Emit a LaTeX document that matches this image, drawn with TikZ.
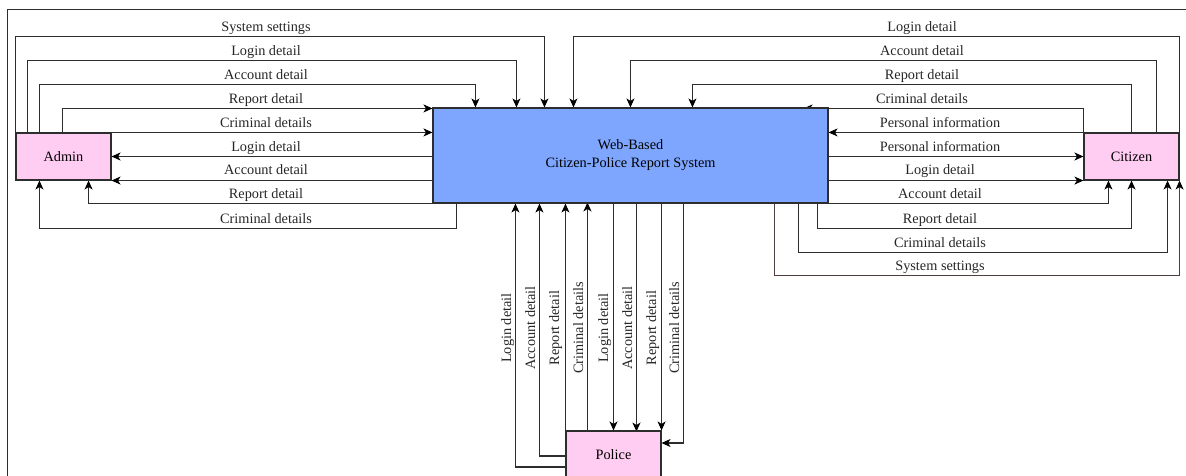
\documentclass[tikz,border=0pt]{standalone}
\usepackage{fontspec}
\setmainfont{Liberation Serif}
\usetikzlibrary{arrows.meta,backgrounds,calc}
\definecolor{pinkc}{RGB}{255,204,242}
\definecolor{bluec}{RGB}{126,166,255}
\definecolor{linec}{RGB}{45,45,45}
\definecolor{brownc}{RGB}{80,62,62}
\tikzset{
  flow/.style={draw=linec, line width=1.1pt, -{Stealth[length=9pt,width=8pt,inset=2.5pt,color=black]}},
  entity/.style={draw=linec, line width=1.1pt, fill=pinkc, minimum width=95pt, minimum height=47pt, inner sep=0pt},
  proc/.style={draw=linec, line width=1.1pt, fill=bluec, minimum width=395pt, minimum height=95pt, inner sep=0pt, align=center},
  lbl/.style={anchor=base, inner sep=0pt, text=black!85},
  vlbl/.style={anchor=base, inner sep=0pt, rotate=90, text=black!85}
}
\begin{document}
\begin{tikzpicture}[x=1pt,y=-1pt,font=\fontsize{14.3}{18}\selectfont]
\useasboundingbox (0,0) rectangle (1186,476);
\clip (0,0) rectangle (1186,476);
\draw[linec, line width=1pt] (7,480) -- (7,10) -- (1190,10);

\node[proc] (main) at (630.5,155.5) {Web-Based\\Citizen-Police Report System};
\node[entity] (admin) at (63.5,156.5) {Admin};
\node[entity] (citizen) at (1131.5,156.5) {Citizen};
\node[entity, minimum height=48pt] (police) at (613.5,455) {Police};

\begin{pgfonlayer}{background}
% Admin side
\draw[flow] (admin.north west) -- ++(0,-96) -| ([xshift=112pt]main.north west);
\draw[flow] ([xshift=12pt]admin.north west) -- ++(0,-72) -| ([xshift=84pt]main.north west);
\draw[flow] ([xshift=24pt]admin.north west) -- ++(0,-48) -| ([xshift=43pt]main.north west);
\draw[flow] ([xshift=47pt]admin.north west) |- ([yshift=-1pt]main.north west);
\draw[flow] (admin.north east) -- (admin.north east -| main.west);
\draw[flow] (main.west |- admin.east) -- (admin.east);
\draw[flow] (main.west |- admin.south east) -- (admin.south east);
\draw[flow] (main.south west) -| ([xshift=-23pt]admin.south east);
\draw[flow] ([xshift=24pt]main.south west) -- ++(0,25) -| ([xshift=24pt]admin.south west);
% Citizen side
\draw[flow] (citizen.north east) -- ++(0,-96) -| ([xshift=141pt]main.north west);
\draw[flow] ([xshift=-23pt]citizen.north east) -- ++(0,-72) -| ([xshift=198pt]main.north west);
\draw[flow] (citizen.north) -- ++(0,-48) -| ([xshift=260pt]main.north west);
\draw[flow] (citizen.north west) |- ([xshift=-25pt,yshift=-1pt]main.north east);
\draw[flow] (citizen.north west) -- (citizen.north west -| main.east);
\draw[flow] (main.east |- citizen.west) -- (citizen.west);
\draw[flow] (main.east |- citizen.south west) -- (citizen.south west);
\draw[flow] (main.south east) -| ([xshift=25pt]citizen.south west);
\draw[flow] ([xshift=-11pt]main.south east) -- ++(0,25) -| (citizen.south);
\draw[flow] ([xshift=-30pt]main.south east) -- ++(0,49) -| ([xshift=-12pt]citizen.south east);
\draw[flow, draw=brownc] ([xshift=-54pt]main.south east) -- ++(0,72) -| (citizen.south east);
% Police side
\draw[flow] ([yshift=-12pt]police.west) -| ([xshift=83pt]main.south west);
\draw[flow] ([yshift=-1pt]police.west) -| ([xshift=107pt]main.south west);
\draw[flow] (police.north west) -- (police.north west |- main.south);
\draw[flow] ([xshift=22pt]police.north west) -- ++(0,-228);
\draw[flow] (police.north |- main.south) -- (police.north);
\draw[flow] ([xshift=204pt]main.south west) -- ++(0,228);
\draw[flow] (police.north east |- main.south) -- (police.north east);
\draw[flow] ([xshift=251pt]main.south west) |- ([yshift=12pt]police.east);
\end{pgfonlayer}

% Admin labels
\node[lbl] (la1) at (266,32) {System settings};
\node[lbl] (la2) at (266,56) {Login detail};
\node[lbl] (la3) at (266,80) {Account detail};
\node[lbl] (la4) at (266,104) {Report detail};
\node[lbl] (la5) at (266,128) {Criminal details};
\node[lbl] (la6) at (266,151) {Login detail};
\node[lbl] (la7) at (266,175) {Account detail};
\node[lbl] (la8) at (266,198) {Report detail};
\node[lbl] (la9) at (266,223) {Criminal details};
% Citizen labels
\node[lbl] (lc1) at (922,32) {Login detail};
\node[lbl] (lc2) at (922,56) {Account detail};
\node[lbl] (lc3) at (922,80) {Report detail};
\node[lbl] (lc4) at (922,104) {Criminal details};
\node[lbl] (lc5) at (940,128) {Personal information};
\node[lbl] (lc6) at (940,151) {Personal information};
\node[lbl] (lc7) at (940,175) {Login detail};
\node[lbl] (lc8) at (940,198) {Account detail};
\node[lbl] (lc9) at (940,223) {Report detail};
\node[lbl] (lc10) at (940,247) {Criminal details};
\node[lbl] (lc11) at (940,270) {System settings};
% Police labels
\node[vlbl] (lp1) at (511,328) {Login detail};
\node[vlbl] (lp2) at (535,328) {Account detail};
\node[vlbl] (lp3) at (559,328) {Report detail};
\node[vlbl] (lp4) at (583,328) {Criminal details};
\node[vlbl] (lp5) at (608,328) {Login detail};
\node[vlbl] (lp6) at (632,328) {Account detail};
\node[vlbl] (lp7) at (656,328) {Report detail};
\node[vlbl] (lp8) at (679,328) {Criminal details};
\end{tikzpicture}
\end{document}
